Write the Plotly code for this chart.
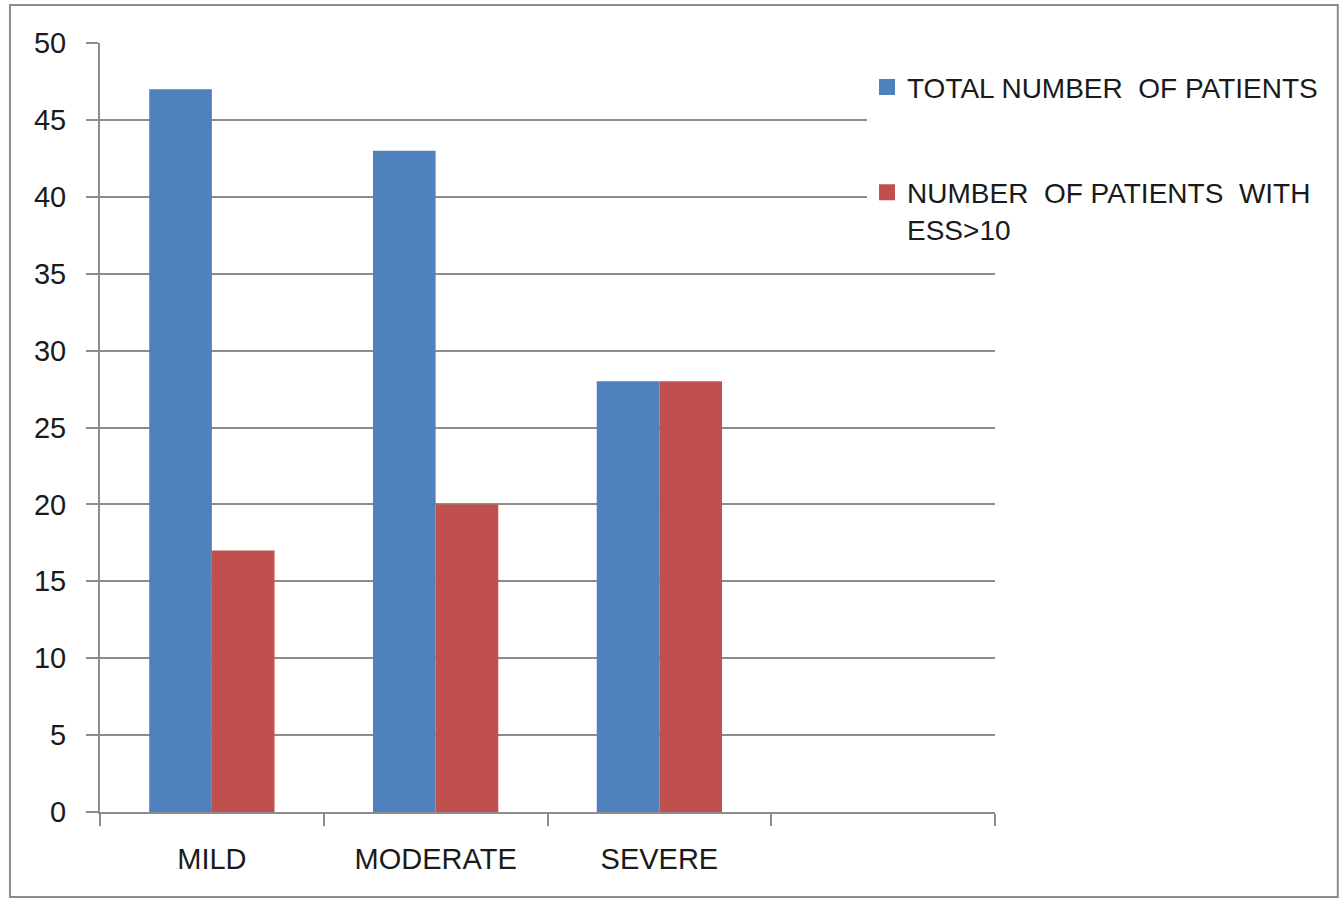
import plotly.graph_objects as go

categories = ["MILD", "MODERATE", "SEVERE"]
total_patients = [47, 43, 28]
ess_over_10 = [17, 20, 28]
series_names = ["TOTAL NUMBER  OF PATIENTS", "NUMBER  OF PATIENTS  WITH<br>ESS>10"]
y_ticks = [0, 5, 10, 15, 20, 25, 30, 35, 40, 45, 50]

BLUE = "#4F81BD"
RED = "#C0504D"
GRID = "#8C8C8C"
FONT = "Liberation Sans, Arial, sans-serif"
TXT = "#1a1a1a"

xpos = list(range(len(categories)))

fig = go.Figure()
fig.add_trace(go.Bar(x=xpos, y=total_patients, marker=dict(color=BLUE, line=dict(width=0)),
                     showlegend=False, name=series_names[0]))
fig.add_trace(go.Bar(x=xpos, y=ess_over_10, marker=dict(color=RED, line=dict(width=0)),
                     showlegend=False, name=series_names[1]))
# legend entries
for i, (nm, col) in enumerate(zip(series_names, [BLUE, RED])):
    fig.add_trace(go.Scatter(x=[None], y=[None], mode="markers", name=nm,
                             legendgroup=f"g{i}",
                             marker=dict(symbol="square", size=16, color=col)))

fig.update_layout(
    width=1341, height=899,
    margin=dict(l=100, r=346, t=43, b=87),
    paper_bgcolor="white", plot_bgcolor="white",
    barmode="group", bargap=0.44, bargroupgap=0,
    font=dict(family=FONT, size=29, color=TXT),
    showlegend=True,
    legend=dict(x=0.857, y=0.975, xanchor="left", yanchor="top",
                bgcolor="white", traceorder="grouped", tracegroupgap=66,
                itemsizing="trace", valign="top",
                font=dict(family=FONT, size=28, color=TXT)),
    xaxis=dict(range=[-0.5, 3.5], tickvals=xpos, ticktext=categories, ticks="",
               showgrid=False, zeroline=False, showline=True, linecolor=GRID, linewidth=2,
               ticklabelstandoff=20, tickfont=dict(size=29),
               minor=dict(ticks="outside", tick0=-0.5, dtick=1, ticklen=12,
                          tickcolor=GRID, tickwidth=2, showgrid=False)),
    yaxis=dict(range=[0, 50], tickvals=y_ticks, ticks="outside", ticklen=12,
               tickcolor=GRID, tickwidth=2, showgrid=True, gridcolor=GRID, gridwidth=2,
               zeroline=False, showline=True, linecolor=GRID, linewidth=2,
               ticklabelstandoff=14, tickfont=dict(size=29)),
)

# outer chart frame
fig.add_shape(type="rect", xref="paper", yref="paper",
              x0=-0.1006, x1=1.383, y0=-0.1105, y1=1.0494,
              line=dict(color="#8C8C8C", width=2), layer="below")

fig.write_html("out.html")
